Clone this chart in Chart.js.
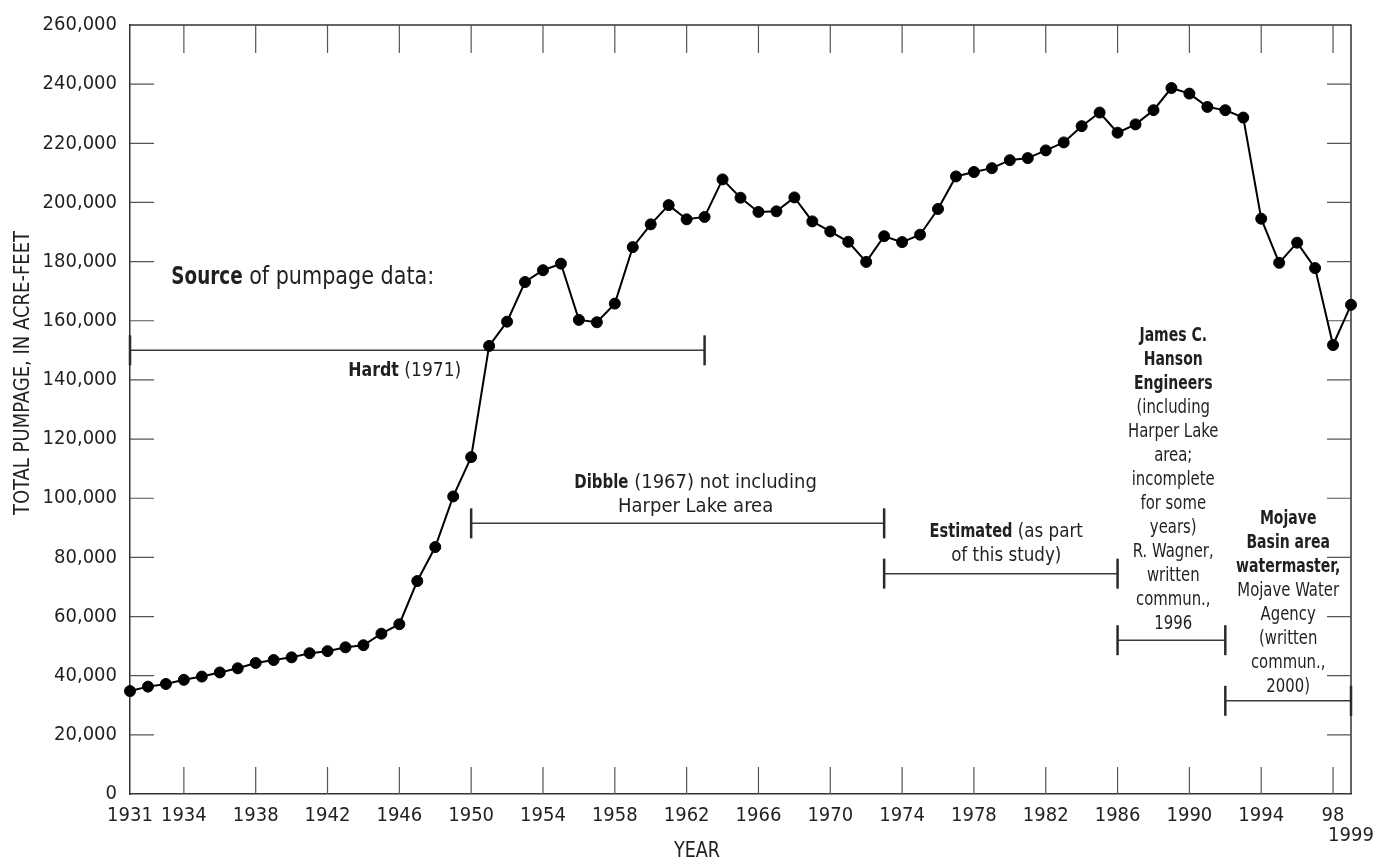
<!DOCTYPE html>
<html lang="en">
<head>
  <meta charset="UTF-8">
  <title>Total pumpage, 1931-99</title>
  <script src="https://cdn.jsdelivr.net/npm/chart.js"></script>
  <style>
    html, body { margin: 0; padding: 0; background: #fff; }
  </style>
</head>
<body>
  <canvas id="pumpChart" width="1386" height="860"></canvas>
  <script>
    // pumpage by year
    const years = [1931, 1932, 1933, 1934, 1935, 1936, 1937, 1938, 1939, 1940,
      1941, 1942, 1943, 1944, 1945, 1946, 1947, 1948, 1949, 1950,
      1951, 1952, 1953, 1954, 1955, 1956, 1957, 1958, 1959, 1960,
      1961, 1962, 1963, 1964, 1965, 1966, 1967, 1968, 1969, 1970,
      1971, 1972, 1973, 1974, 1975, 1976, 1977, 1978, 1979, 1980,
      1981, 1982, 1983, 1984, 1985, 1986, 1987, 1988, 1989, 1990,
      1991, 1992, 1993, 1994, 1995, 1996, 1997, 1998, 1999];
    const pumpage = [34800, 36300, 37200, 38600, 39700, 41100, 42500, 44300, 45300, 46200,
      47600, 48300, 49600, 50300, 54200, 57400, 72000, 83500, 100600, 113900,
      151500, 159700, 173100, 177100, 179300, 160300, 159500, 165800, 184900, 192600,
      199100, 194300, 195100, 207800, 201600, 196800, 197000, 201700, 193600, 190200,
      186700, 179900, 188600, 186600, 189100, 197800, 208800, 210300, 211600, 214300,
      215000, 217600, 220300, 225800, 230400, 223600, 226400, 231200, 238700, 236800,
      232300, 231200, 228700, 194500, 179600, 186400, 177800, 151800, 165400];

    // periods covered by each data source
    const sourceStart = [1931, 1950, 1973, 1986, 1992];
    const sourceEnd = [1963, 1973, 1986, 1992, 1999];
    const sourceLevel = [150000, 91500, 74500, 52000, 31500];

    const xTickYears = [1931, 1934, 1938, 1942, 1946, 1950, 1954, 1958, 1962, 1966,
      1970, 1974, 1978, 1982, 1986, 1990, 1994, 1998, 1999];
    const xTickLabels = ['1931', '1934', '1938', '1942', '1946', '1950', '1954', '1958', '1962', '1966',
      '1970', '1974', '1978', '1982', '1986', '1990', '1994', '98', ['', '1999']];

    const FONT = '"DejaVu Sans Condensed", "Liberation Sans Narrow", sans-serif';
    const INK = '#231f20';
    Chart.defaults.font.family = FONT;
    Chart.defaults.font.size = 20;
    Chart.defaults.color = INK;

    // text blocks: anchor in data units, lines made of [text, bold] runs,
    // squeezed sideways (sx regular, bx bold) to get close to the narrow original type
    const notes = [
      { x: 1933.3, y: 174500, align: 'left', size: 24, sx: 0.96, bx: 0.85, lines: [[['Source', 1], [' of pumpage data:', 0]]] },
      { x: 1946.3, y: 143100, size: 20, sx: 0.95, bx: 0.88, lines: [[['Hardt', 1], [' (1971)', 0]]] },
      { x: 1962.5, y: 105100, size: 20, sx: 1, bx: 0.83, lines: [[['Dibble', 1], [' (1967) not including', 0]], [['Harper Lake area', 0]]] },
      { x: 1979.8, y: 88800, size: 20, sx: 0.93, bx: 0.81, lines: [[['Estimated', 1], [' (as part', 0]], [['of this study)', 0]]] },
      { x: 1989.1, y: 154900, size: 19, sx: 0.87, bx: 0.82, lines: [[['James C.', 1]], [['Hanson', 1]], [['Engineers', 1]], [['(including', 0]],
        [['Harper Lake', 0]], [['area;', 0]], [['incomplete', 0]], [['for some', 0]], [['years)', 0]],
        [['R. Wagner,', 0]], [['written', 0]], [['commun.,', 0]], [['1996', 0]]] },
      { x: 1995.5, y: 92860, size: 19, sx: 0.87, bx: 0.82, lines: [[['Mojave', 1]], [['Basin area', 1]], [['watermaster,', 1]], [['Mojave Water', 0]],
        [['Agency', 0]], [['(written', 0]], [['commun.,', 0]], [['2000)', 0]]] }
    ];

    function drawRuns(ctx, runs, x, y, n) {
      const widths = runs.map(r => {
        ctx.font = (r[1] ? 'bold ' : '') + n.size + 'px ' + FONT;
        return ctx.measureText(r[0]).width * (r[1] ? n.bx : n.sx);
      });
      const total = widths.reduce((a, b) => a + b, 0);
      let cx = n.align === 'left' ? x : x - total / 2;
      runs.forEach((r, i) => {
        ctx.save();
        ctx.font = (r[1] ? 'bold ' : '') + n.size + 'px ' + FONT;
        ctx.translate(cx, y);
        ctx.scale(r[1] ? n.bx : n.sx, 1);
        ctx.fillText(r[0], 0, 0);
        ctx.restore();
        cx += widths[i];
      });
    }

    // top/right axes and inward tick marks
    const framePlugin = {
      id: 'frame',
      beforeDatasetsDraw(chart) {
        const { ctx, chartArea: a, scales } = chart;
        ctx.save();
        ctx.strokeStyle = '#333';
        ctx.lineWidth = 1.5;
        ctx.beginPath();
        ctx.moveTo(a.left, a.top);
        ctx.lineTo(a.right, a.top);
        ctx.lineTo(a.right, a.bottom);
        ctx.stroke();
        ctx.strokeStyle = '#555';
        ctx.lineWidth = 1.2;
        ctx.beginPath();
        xTickYears.forEach(v => {
          if (v === 1931 || v === 1999) return;
          const px = scales.x.getPixelForValue(v);
          ctx.moveTo(px, a.bottom); ctx.lineTo(px, a.bottom - 27);
          ctx.moveTo(px, a.top); ctx.lineTo(px, a.top + 28);
        });
        scales.y.ticks.forEach(t => {
          if (t.value === 0 || t.value === 260000) return;
          const py = scales.y.getPixelForValue(t.value);
          ctx.moveTo(a.left, py); ctx.lineTo(a.left + 24, py);
          ctx.moveTo(a.right, py); ctx.lineTo(a.right - 24, py);
        });
        ctx.stroke();
        ctx.restore();
      },
      afterDraw(chart) {
        const { ctx, scales } = chart;
        ctx.save();
        ctx.fillStyle = INK;
        ctx.textBaseline = 'middle';
        notes.forEach(n => {
          const px = scales.x.getPixelForValue(n.x);
          const py = scales.y.getPixelForValue(n.y);
          n.lines.forEach((runs, i) => drawRuns(ctx, runs, px, py + i * 24, n));
        });
        // axis titles
        ctx.font = '22px ' + FONT;
        ctx.textAlign = 'center';
        ctx.save();
        ctx.translate(697, 851);
        ctx.scale(0.89, 1);
        ctx.fillText('YEAR', 0, 0);
        ctx.restore();
        ctx.translate(23, 373);
        ctx.rotate(-Math.PI / 2);
        ctx.scale(0.91, 1);
        ctx.fillText('TOTAL PUMPAGE, IN ACRE-FEET', 0, 0);
        ctx.restore();
      }
    };

    const sourceSets = sourceStart.map((s, i) => ({
      data: [{ x: s, y: sourceLevel[i] }, { x: sourceEnd[i], y: sourceLevel[i] }],
      borderColor: '#3a3a3a',
      borderWidth: 1.5,
      pointStyle: 'line',
      rotation: 90,
      pointRadius: 15,
      pointBorderWidth: 2.5,
      pointBorderColor: '#2a2a2a',
      clip: false,
      order: 2
    }));

    new Chart(document.getElementById('pumpChart'), {
      type: 'line',
      data: {
        datasets: [{
          label: 'Total pumpage',
          data: years.map((yr, i) => ({ x: yr, y: pumpage[i] })),
          borderColor: '#000',
          borderWidth: 2,
          pointRadius: 5.5,
          pointBorderWidth: 1,
          pointBackgroundColor: '#000',
          pointBorderColor: '#000',
          tension: 0,
          clip: false,
          order: 1
        }, ...sourceSets]
      },
      options: {
        responsive: false,
        animation: false,
        layout: { padding: { top: 23, right: 35, left: 0, bottom: 0 } },
        plugins: { legend: { display: false }, tooltip: { enabled: false } },
        scales: {
          x: {
            type: 'linear',
            min: 1931,
            max: 1999,
            afterBuildTicks: s => { s.ticks = xTickYears.map(v => ({ value: v })); },
            afterFit: s => { s.height = 66; },
            grid: { display: false, drawTicks: false },
            border: { display: true, color: '#333', width: 1.5 },
            ticks: {
              padding: 12,
              maxRotation: 0,
              autoSkip: false,
              font: { size: 20, lineHeight: 1 },
              callback: v => xTickLabels[xTickYears.indexOf(v)]
            }
          },
          y: {
            min: 0,
            max: 260000,
            afterFit: s => { s.width = 130; },
            grid: { display: false, drawTicks: false },
            border: { display: true, color: '#333', width: 1.5 },
            ticks: {
              stepSize: 20000,
              padding: 13,
              font: { size: 20 },
              callback: v => v.toLocaleString('en-US')
            }
          }
        }
      },
      plugins: [framePlugin]
    });
  </script>
</body>
</html>
